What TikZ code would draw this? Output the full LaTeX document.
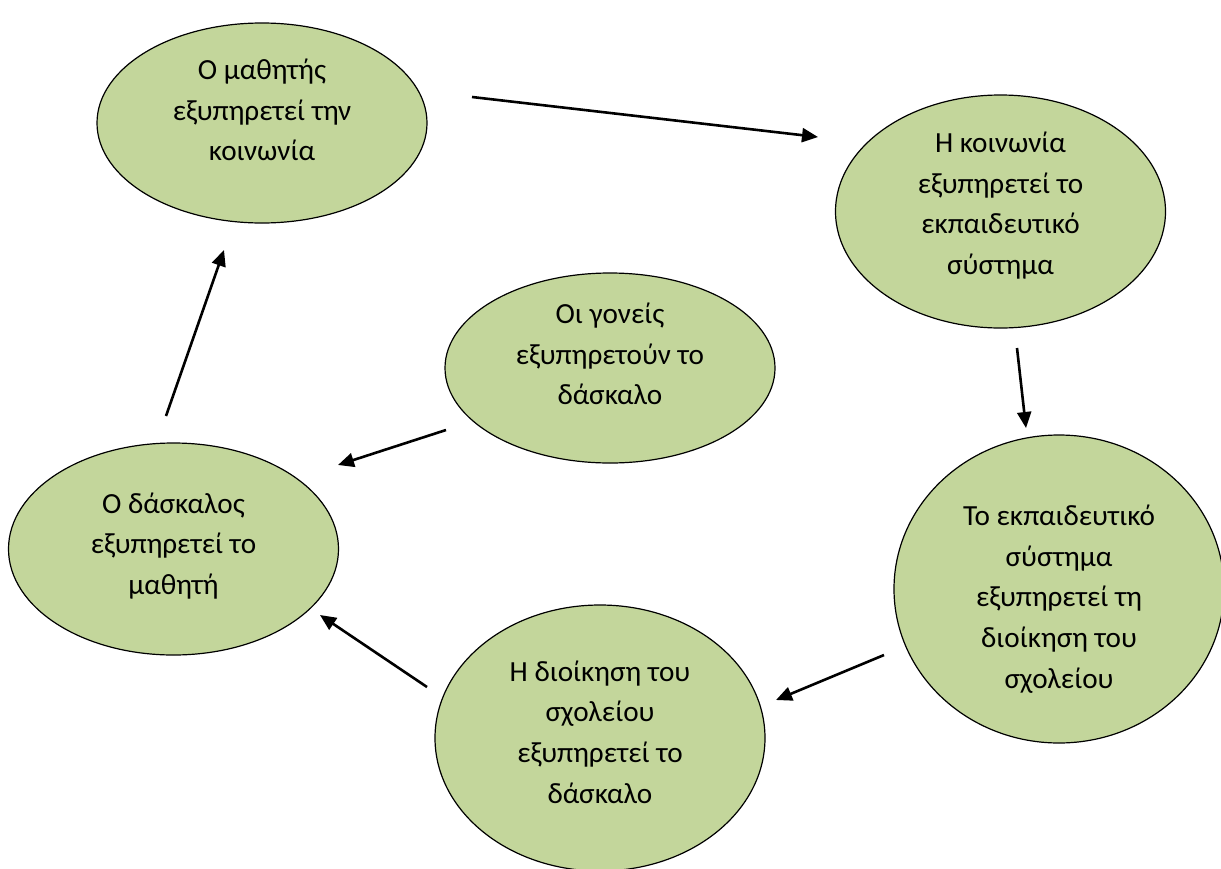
\documentclass[tikz,border=0pt]{standalone}
\usepackage{fontspec}
\setmainfont{Carlito}
\usepackage{xcolor}
\usepackage{tikz}
\usetikzlibrary{shapes.geometric, arrows.meta}
\definecolor{olivefill}{HTML}{C3D69B}
\tikzstyle{bubble} = [ellipse, draw=black, line width=0.6pt, fill=olivefill, inner sep=0pt, minimum width=165pt]
\tikzstyle{txt} = [align=center, font=\fontsize{14.6}{20.3}\selectfont]
\tikzstyle{arrow} = [line width=1.3pt, -{Triangle[length=8pt, width=7pt]}]

\begin{document}
\begin{tikzpicture}[x=0.5pt, y=-0.5pt]
  \useasboundingbox (0,0) rectangle (1221,868);

  \node[bubble, minimum height=100pt, label={[txt, yshift=6.5pt]center:Ο μαθητής\\εξυπηρετεί την\\κοινωνία}] (mathitis) at (262,123) {};
  \node[bubble, minimum height=116.5pt, label={[txt, yshift=3pt]center:Η κοινωνία\\εξυπηρετεί το\\εκπαιδευτικό\\σύστημα}] (koinonia) at (1000.5,211.5) {};
  \node[bubble, minimum height=95pt, label={[txt, yshift=7pt]center:Οι γονείς\\εξυπηρετούν το\\δάσκαλο}] (goneis) at (610,368) {};
  \node[bubble, minimum height=106pt, label={[txt, yshift=1.5pt]center:Ο δάσκαλος\\εξυπηρετεί το\\μαθητή}] (daskalos) at (173.5,549) {};
  \node[bubble, minimum height=154pt, label={[txt, yshift=-5pt]center:Το εκπαιδευτικό\\σύστημα\\εξυπηρετεί τη\\διοίκηση του\\σχολείου}] (systima) at (1059,589) {};
  \node[bubble, minimum height=133pt, label={[txt, yshift=3pt]center:Η διοίκηση του\\σχολείου\\εξυπηρετεί το\\δάσκαλο}] (dioikisi) at (600,738) {};

  % arrow ends
  \coordinate (a1s) at (472,97);   \coordinate (a1e) at (818,137);
  \coordinate (a2s) at (1017,348); \coordinate (a2e) at (1026,428);
  \coordinate (a3s) at (884,655);  \coordinate (a3e) at (776,700);
  \coordinate (a4s) at (427,687);  \coordinate (a4e) at (320,615);
  \coordinate (a5s) at (446,430);  \coordinate (a5e) at (338,465);
  \coordinate (a6s) at (166,416);  \coordinate (a6e) at (224,250);

  \draw[arrow] (a1s) -- (a1e);
  \draw[arrow] (a2s) -- (a2e);
  \draw[arrow] (a3s) -- (a3e);
  \draw[arrow] (a4s) -- (a4e);
  \draw[arrow] (a5s) -- (a5e);
  \draw[arrow] (a6s) -- (a6e);
\end{tikzpicture}
\end{document}
